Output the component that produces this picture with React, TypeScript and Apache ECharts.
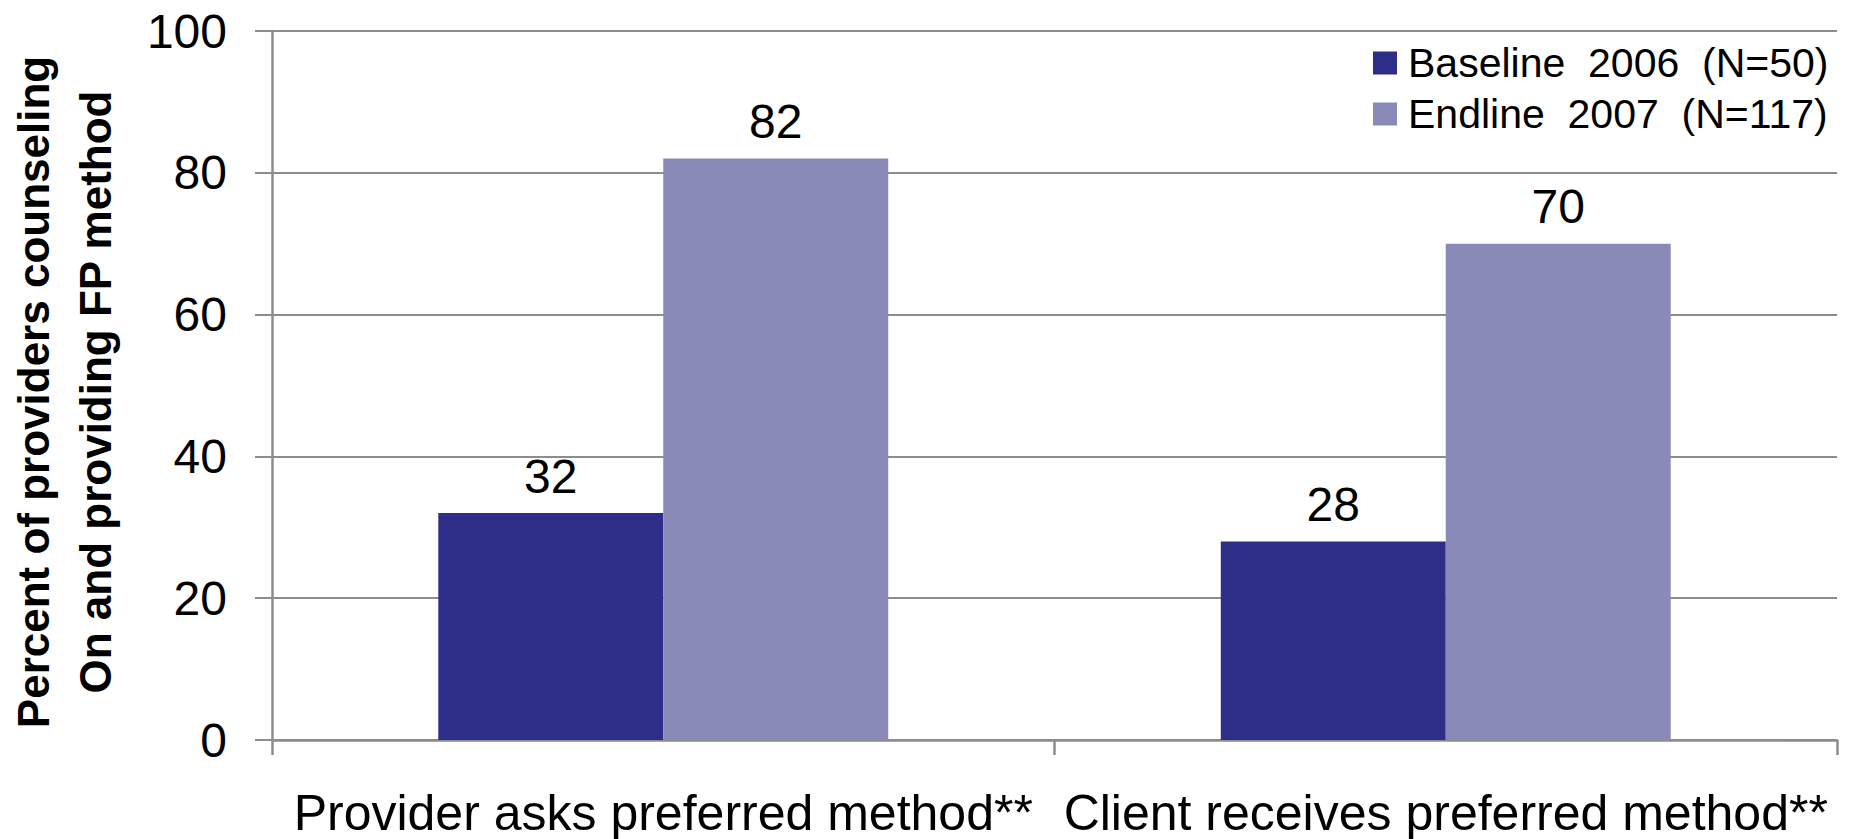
import React, { useEffect, useRef } from "react";
import * as echarts from "echarts";

const categories = ["Provider asks preferred method**", "Client receives preferred method**"];
const seriesNames = ["Baseline  2006  (N=50)", "Endline  2007  (N=117)"];
const baselineValues = [32, 28];
const endlineValues = [82, 70];
const yTitleLines = ["Percent of providers counseling", "On and providing FP method"];
const colors = ["#2E2D87", "#8A8AB8"];

export default function App() {
  const ref = useRef<HTMLDivElement>(null);
  useEffect(() => {
    if (!ref.current) return;
    const chart = echarts.init(ref.current, null, { renderer: "svg" });
    const font = "'Liberation Sans', Arial, sans-serif";
    chart.setOption({
      animation: false,
      backgroundColor: "#ffffff",
      textStyle: { fontFamily: font },
      grid: { left: 272, right: 13, top: 31, bottom: 99, containLabel: false },
      legend: {
        orient: "vertical",
        left: 1368,
        top: 37,
        itemWidth: 24,
        itemHeight: 23,
        itemGap: 9,
        icon: "rect",
        textStyle: { fontSize: 41, color: "#000", fontFamily: font, lineHeight: 42, padding: [0, 0, 0, 6] },
        data: seriesNames,
      },
      xAxis: {
        type: "category",
        data: categories,
        boundaryGap: true,
        axisLine: { show: true, lineStyle: { color: "#8c8c8c", width: 2.5 } },
        axisTick: { show: true, length: 15, lineStyle: { color: "#8c8c8c", width: 2.5 } },
        axisLabel: { interval: 0, fontSize: 50, color: "#000", margin: 48, fontFamily: font, overflow: "none" },
      },
      yAxis: {
        type: "value",
        min: 0,
        max: 100,
        interval: 20,
        axisLine: { show: true, lineStyle: { color: "#8c8c8c", width: 2.5 } },
        axisTick: { show: true, length: 17, lineStyle: { color: "#8c8c8c", width: 2 } },
        axisLabel: { fontSize: 48, color: "#000", margin: 45, fontFamily: font },
        splitLine: { show: true, lineStyle: { color: "#8c8c8c", width: 2 } },
      },
      graphic: [
        {
          type: "text",
          x: 64,
          y: 392,
          rotation: Math.PI / 2,
          style: {
            text: yTitleLines.join("\n"),
            fontSize: 44,
            fontWeight: "bold",
            fontFamily: font,
            lineHeight: 62,
            fill: "#000",
            textAlign: "center",
            textVerticalAlign: "middle",
          },
        },
      ],
      series: [
        {
          name: seriesNames[0],
          type: "bar",
          data: baselineValues,
          barGap: "0%",
          barCategoryGap: "42.5%",
          itemStyle: { color: colors[0] },
          label: { show: true, position: "top", distance: 13, fontSize: 48, color: "#000", fontFamily: font },
        },
        {
          name: seriesNames[1],
          type: "bar",
          data: endlineValues,
          barGap: "0%",
          barCategoryGap: "42.5%",
          itemStyle: { color: colors[1] },
          label: { show: true, position: "top", distance: 13, fontSize: 48, color: "#000", fontFamily: font },
        },
      ],
    });
    return () => chart.dispose();
  }, []);
  return <div ref={ref} style={{ width: 1850, height: 839, position: "absolute", left: 0, top: 0 }} />;
}
